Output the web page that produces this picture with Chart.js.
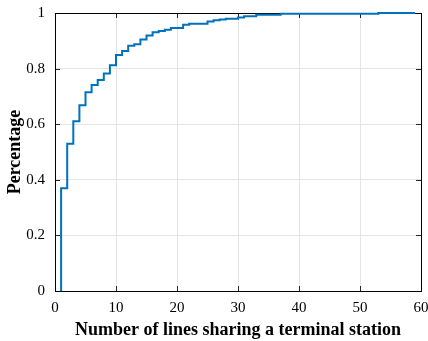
<!DOCTYPE html>
<html>
<head>
<meta charset="utf-8">
<script src="https://cdn.jsdelivr.net/npm/chart.js@4.4.0/dist/chart.umd.min.js"></script>
<style>
  html, body { margin: 0; padding: 0; background: #ffffff; }
  #box { width: 428px; height: 341px; }
</style>
</head>
<body>
<div id="box"><canvas id="myChart"></canvas></div>
<script>
// number of lines sharing a terminal station (x) and empirical CDF (y)
var lineCounts = [1, 1, 2, 3, 4, 5, 6, 7, 8, 9, 10, 11, 12, 13, 14, 15, 16, 17, 18, 19, 21, 22, 25, 26, 27, 28, 30, 31, 33, 37, 53, 59];
var cdfValues = [0, 0.37, 0.53, 0.611, 0.668, 0.715, 0.741, 0.759, 0.782, 0.812, 0.849, 0.863, 0.882, 0.888, 0.905, 0.919, 0.931, 0.935, 0.940, 0.946, 0.958, 0.961, 0.969, 0.974, 0.977, 0.979, 0.984, 0.988, 0.994, 0.997, 1.0, 1.0];
var xTicks = [0, 10, 20, 30, 40, 50, 60];
var yTicks = [0, 0.2, 0.4, 0.6, 0.8, 1];

var points = [];
for (var i = 0; i < lineCounts.length; i++) {
    points.push({ x: lineCounts[i], y: cdfValues[i] });
}

var serif = "'Liberation Serif', 'Times New Roman', serif";

// MATLAB style box with ticks pointing inward
var boxPlugin = {
    id: "boxTicks",
    beforeDatasetsDraw: function (chart) {
        var ctx = chart.ctx;
        var a = chart.chartArea;
        var xs = chart.scales.x;
        var ys = chart.scales.y;
        var len = 5;
        ctx.save();
        ctx.strokeStyle = "#262626";
        ctx.lineWidth = 1;
        ctx.beginPath();
        xTicks.forEach(function (v) {
            var px = Math.round(xs.getPixelForValue(v)) + 0.5;
            ctx.moveTo(px, a.bottom);
            ctx.lineTo(px, a.bottom - len);
            ctx.moveTo(px, a.top);
            ctx.lineTo(px, a.top + len);
        });
        yTicks.forEach(function (v) {
            var py = Math.round(ys.getPixelForValue(v)) + 0.5;
            ctx.moveTo(a.left, py);
            ctx.lineTo(a.left + len, py);
            ctx.moveTo(a.right, py);
            ctx.lineTo(a.right - len, py);
        });
        ctx.stroke();
        ctx.strokeStyle = "#000000";
        ctx.strokeRect(Math.round(a.left) + 0.5, Math.round(a.top) + 0.5,
            Math.round(a.right - a.left), Math.round(a.bottom - a.top));
        ctx.restore();
    }
};

new Chart("myChart", {
    type: "scatter",
    data: {
        datasets: [{
            data: points,
            showLine: true,
            stepped: true,
            borderColor: "#0072BD",
            backgroundColor: "#0072BD",
            borderWidth: 2,
            pointRadius: 0,
            fill: false,
            clip: 4
        }]
    },
    options: {
        responsive: true,
        maintainAspectRatio: false,
        animation: false,
        layout: { padding: { top: 13, right: 7, left: 0, bottom: 0 } },
        plugins: {
            legend: { display: false },
            tooltip: { enabled: false }
        },
        scales: {
            x: {
                type: "linear",
                min: 0,
                max: 60,
                afterBuildTicks: function (scale) {
                    scale.ticks = xTicks.map(function (v) { return { value: v }; });
                },
                afterFit: function (scale) {
                    scale.height = 50;
                    scale.paddingLeft = 0;
                    scale.paddingRight = 0;
                },
                grid: { color: "#e3e3e3", drawTicks: false },
                border: { display: false },
                ticks: {
                    padding: 8,
                    color: "#000000",
                    font: { family: serif, size: 15 },
                    callback: function (v) { return String(v); }
                },
                title: {
                    display: true,
                    text: "Number of lines sharing a terminal station",
                    color: "#000000",
                    padding: { top: 0, bottom: 0 },
                    font: { family: serif, size: 18, weight: "bold" }
                }
            },
            y: {
                min: 0,
                max: 1,
                afterBuildTicks: function (scale) {
                    scale.ticks = yTicks.map(function (v) { return { value: v }; });
                },
                afterFit: function (scale) {
                    scale.width = 55;
                    scale.paddingTop = 0;
                    scale.paddingBottom = 0;
                },
                grid: { color: "#e3e3e3", drawTicks: false },
                border: { display: false },
                ticks: {
                    padding: 10,
                    color: "#000000",
                    font: { family: serif, size: 15 },
                    callback: function (v) { return String(v); }
                },
                title: {
                    display: true,
                    text: "Percentage",
                    color: "#000000",
                    padding: { top: 5, bottom: 0 },
                    font: { family: serif, size: 18, weight: "bold" }
                }
            }
        }
    },
    plugins: [boxPlugin]
});
</script>
</body>
</html>
